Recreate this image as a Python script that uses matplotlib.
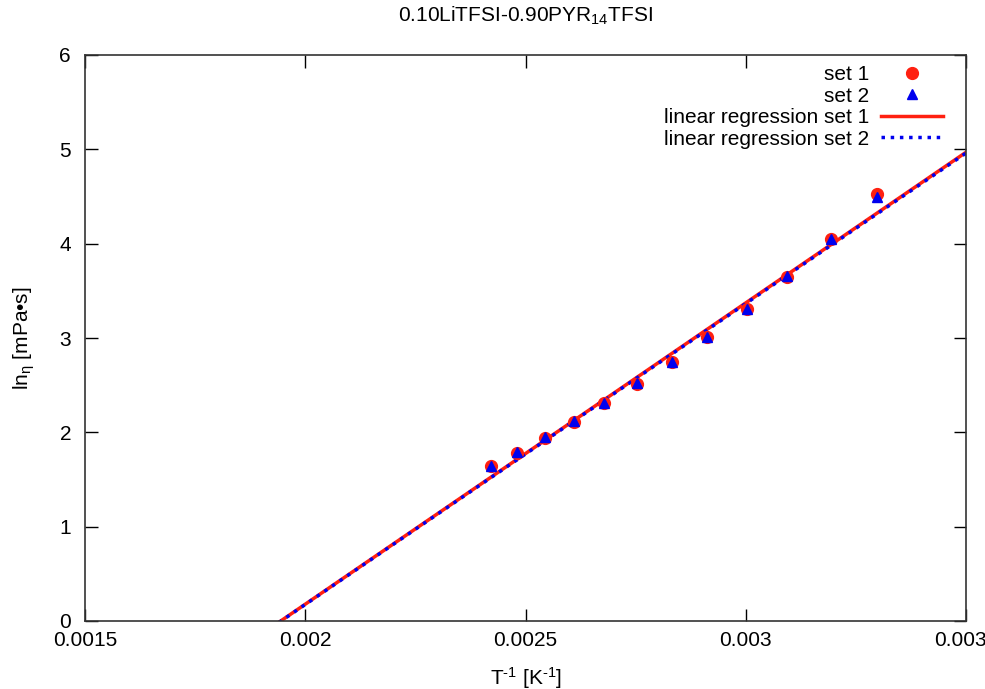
import numpy as np
import matplotlib
matplotlib.use("Agg")
import matplotlib.pyplot as plt

plt.rcParams['font.family'] = ['Liberation Sans', 'DejaVu Sans']
plt.rcParams['mathtext.fontset'] = 'custom'
plt.rcParams['mathtext.rm'] = 'Liberation Sans'
plt.rcParams['mathtext.it'] = 'Liberation Sans:italic'
plt.rcParams['mathtext.default'] = 'regular'

# data (inverse temperature, ln viscosity)
x_set1 = [0.002421, 0.002481, 0.002544, 0.002610, 0.002679, 0.002754,
          0.002832, 0.002913, 0.003002, 0.003093, 0.003193, 0.003299]
y_set1 = [1.64, 1.785, 1.944, 2.113, 2.308, 2.513, 2.743, 3.008, 3.305, 3.651, 4.048, 4.525]
x_set2 = [0.002421, 0.002481, 0.002544, 0.002610, 0.002679, 0.002754,
          0.002832, 0.002913, 0.003002, 0.003093, 0.003193, 0.003299]
y_set2 = [1.64, 1.79, 1.95, 2.115, 2.31, 2.52, 2.75, 3.01, 3.31, 3.655, 4.05, 4.50]

# regression parameters (slope, intercept)
fit1 = (3194.0, -6.210)
fit2 = (3190.0, -6.205)

xticks = [0.0015, 0.002, 0.0025, 0.003, 0.0035]
xtick_labels = ['0.0015', '0.002', '0.0025', '0.003', '0.0035']
yticks = [0, 1, 2, 3, 4, 5, 6]

fig = plt.figure(figsize=(9.85, 6.89), dpi=100)
ax = fig.add_axes([85/985, 68/689, (966-85)/985, (621-55)/689])

xl = np.linspace(0.0015, 0.0035, 400)
ax.plot(x_set1, y_set1, 'o', color='#ff2010', ms=8.5, label='set 1', zorder=3)
ax.plot(x_set2, y_set2, '^', color='#0000ee', ms=7, label='set 2', zorder=4)
ax.plot(xl, fit1[0]*xl + fit1[1], '-', color='#ff2010', lw=2.5, label='linear regression set 1', zorder=2)
ax.plot(xl, fit2[0]*xl + fit2[1], ':', color='#0000ee', lw=2.5, label='linear regression set 2', zorder=2.5)

ax.set_xlim(0.0015, 0.0035)
ax.set_ylim(0, 6)
ax.set_xticks(xticks)
ax.set_xticklabels(xtick_labels)
ax.set_yticks(yticks)
ax.tick_params(direction='in', length=9, width=1, top=True, right=True, labelsize=15)
ax.tick_params(axis='x', pad=7)
ax.tick_params(axis='y', pad=10)
for s in ax.spines.values():
    s.set_linewidth(1.2)
    s.set_color('#333333')

ax.set_xlabel('T$^{\u20101}$ [K$^{\u20101}$]', fontsize=15, labelpad=11)
ax.set_ylabel(r'ln$_{\eta}$ [mPa•s]', fontsize=15, labelpad=16)
ax.set_title(r'0.10LiTFSI-0.90PYR$_{14}$TFSI', fontsize=15, pad=24)

leg = ax.legend(loc='upper right', bbox_to_anchor=(0.9739, 0.982), frameon=False,
                markerfirst=False, fontsize=15,
                handlelength=3.0, handletextpad=0.55, labelspacing=0.12,
                borderaxespad=0, borderpad=0, numpoints=1)

fig.savefig('out.png', dpi=100)
